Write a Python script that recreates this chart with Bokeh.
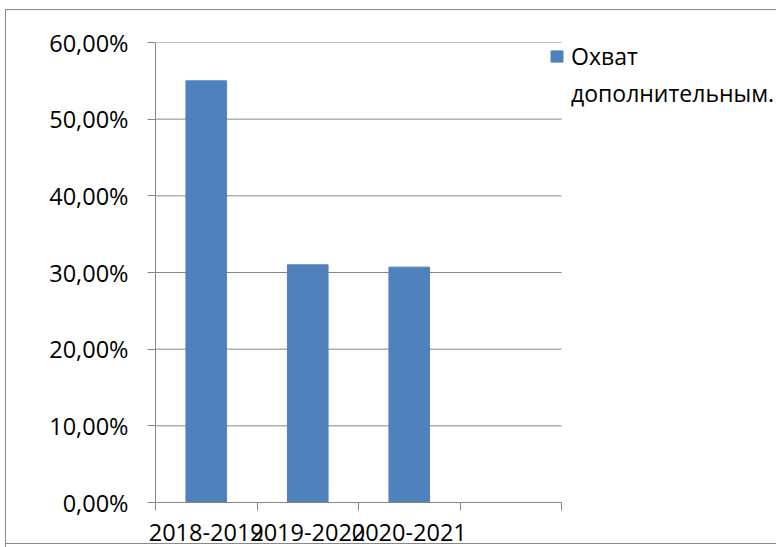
from bokeh.plotting import figure
from bokeh.models import Range1d, FixedTicker, Legend, LegendItem
from bokeh.embed import file_html
from bokeh.resources import INLINE

# ---- data ----
categories = ["2018-2019", "2019-2020", "2020-2021"]
n_slots = 4
coverage = [55.0, 31.0, 30.7]
series_lines = ["Охват", "дополнительным."]
y_ticks = [0, 10, 20, 30, 40, 50, 60]
y_tick_labels = ["0,00%", "10,00%", "20,00%", "30,00%", "40,00%", "50,00%", "60,00%"]

FONT = "Open Sans"
GRID = "#868686"
BAR = "#4F81BD"
EDGE = "#898989"

# layout (pixels)
W, H = 771, 538
LEFT, TOP, BOTTOM = 150, 33, 45
PLOT_W = 406                       # width of the category area
FRAME_W = W - LEFT                 # frame runs to the right edge (legend lives there)
x_end = n_slots * FRAME_W / PLOT_W

line = f"linear-gradient({EDGE},{EDGE})"
p = figure(width=W, height=H, output_backend="svg", toolbar_location=None,
           x_range=Range1d(0, x_end), y_range=Range1d(0, 60),
           min_border_left=LEFT, min_border_right=0,
           min_border_top=TOP, min_border_bottom=BOTTOM)
p.margin = (9, 0, 0, 5)
p.styles = {"background": f"{line} 0 0/100% 1px no-repeat, "
                          f"{line} 0 0/1px 100% no-repeat, "
                          f"{line} 0 534px/100% 1px no-repeat, white"}
p.outline_line_color = None
p.background_fill_color = None
p.border_fill_color = None

# horizontal gridlines across the category area only
p.segment(x0=[0] * len(y_ticks), x1=[n_slots] * len(y_ticks), y0=y_ticks, y1=y_ticks,
          line_color=GRID, line_width=1)

xs = [i + 0.5 for i in range(len(categories))]
r = p.vbar(x=xs, top=coverage, width=0.4, fill_color=BAR, line_color=BAR)

# x axis
xa = p.xaxis[0]
xa.bounds = (0, n_slots)
xa.ticker = FixedTicker(ticks=xs, minor_ticks=list(range(n_slots + 1)))
xa.major_label_overrides = {x: c for x, c in zip(xs, categories)}
xa.major_tick_out = 0
xa.major_tick_in = 0
xa.minor_tick_out = 8
xa.minor_tick_in = 0
xa.minor_tick_line_color = GRID
xa.axis_line_color = GRID
xa.major_label_standoff = 13
xa.major_label_text_font = FONT
xa.major_label_text_font_size = "23.5px"
xa.major_label_text_color = "black"

# y axis
ya = p.yaxis[0]
ya.ticker = FixedTicker(ticks=y_ticks, minor_ticks=[])
ya.major_label_overrides = {t: l for t, l in zip(y_ticks, y_tick_labels)}
ya.major_tick_out = 8
ya.major_tick_in = 0
ya.minor_tick_out = 0
ya.minor_tick_in = 0
ya.major_tick_line_color = GRID
ya.axis_line_color = GRID
ya.major_label_standoff = 19
ya.major_label_text_font = FONT
ya.major_label_text_font_size = "23.5px"
ya.major_label_text_color = "black"

p.xgrid.visible = False
p.ygrid.visible = False

legend = Legend(items=[LegendItem(label=series_lines[0], renderers=[r]),
                       LegendItem(label=series_lines[1], renderers=[])],
                location=(394, 393), padding=0, margin=0, spacing=5,
                label_standoff=7, glyph_width=15, glyph_height=14,
                border_line_color=None, background_fill_alpha=0,
                label_text_font=FONT, label_text_font_size="23px",
                label_text_color="black")
p.add_layout(legend)

open("out.html", "w").write(file_html(p, INLINE))
